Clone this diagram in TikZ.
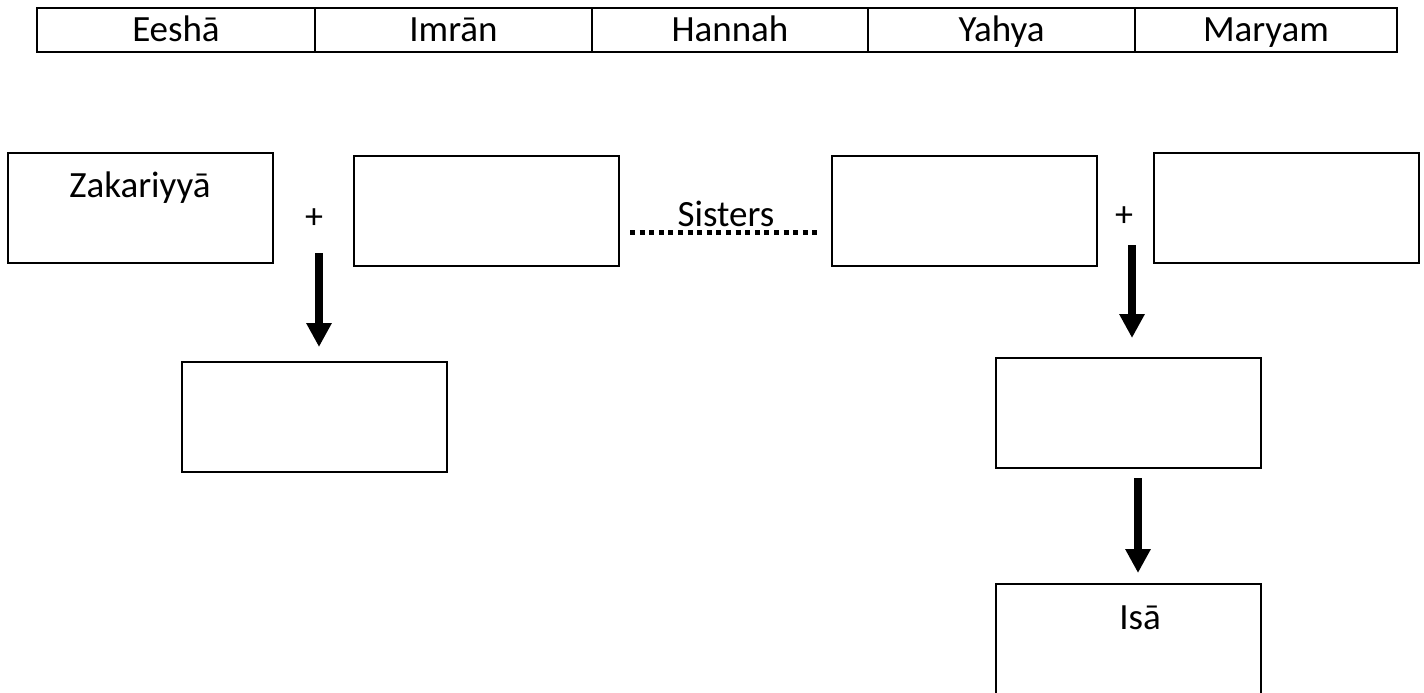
\documentclass[tikz,border=0pt]{standalone}
\usepackage{fontspec}
\setmainfont{Carlito}
\usetikzlibrary{arrows.meta}
\tikzset{
  cell/.style={draw, line width=2pt, minimum height=44pt, inner sep=0pt},
  box/.style={draw, line width=2pt, minimum width=265pt, minimum height=110pt, inner sep=0pt},
  lbl/.style={font=\fontsize{37}{42}\selectfont, inner sep=0pt, anchor=base},
  plus/.style={font=\fontsize{36}{40}\selectfont, inner sep=0pt},
  bigarrow/.style={line width=8pt, -{Triangle[width=24pt,length=24pt]}},
  sisterline/.style={line width=5pt, dash pattern=on 5pt off 4.6pt}
}
\begin{document}
\begin{tikzpicture}[x=1pt,y=-1pt]
\useasboundingbox (0,0) rectangle (1424,693);
% table
\node[cell, minimum width=278pt] (c1) at (176,30) {};
\node[cell, minimum width=277pt] (c2) at (453.5,30) {};
\node[cell, minimum width=276pt] (c3) at (730,30) {};
\node[cell, minimum width=267pt] (c4) at (1001.5,30) {};
\node[cell, minimum width=262pt] (c5) at (1266,30) {};
\node[lbl] (t1) at (176,42) {Eeshā};
\node[lbl] (t2) at (453.5,42) {Imrān};
\node[lbl] (t3) at (730,42) {Hannah};
\node[lbl] (t4) at (1001.5,42) {Yahya};
\node[lbl] (t5) at (1266,42) {Maryam};
% boxes
\node[box] (zak) at (140.5,207.5) {};
\node[lbl] (zaktext) at (140,197) {Zakariyyā};
\node[box] (b2) at (486.5,210.5) {};
\node[box] (b3) at (964,210.5) {};
\node[box] (b4) at (1286,207.5) {};
\node[box] (b5) at (314,417) {};
\node[box] (b6) at (1128.5,413) {};
\node[box] (b7) at (1128,638.5) {};
\node[lbl] (isa) at (1140,629) {Isā};
% plus signs
\node[plus] (p1) at (314,219) {+};
\node[plus] (p2) at (1124,217) {+};
% sisters
\coordinate (s1) at (630,232.5);
\coordinate (s2) at (820,232.5);
\draw[sisterline] (s1) -- (s2);
\node[lbl] (sis) at (726,226) {Sisters};
% arrows
\coordinate (a1s) at (319,253);
\coordinate (a1e) at (319,347);
\draw[bigarrow] (a1s) -- (a1e);
\coordinate (a2s) at (1132,245);
\coordinate (a2e) at (1132,338);
\draw[bigarrow] (a2s) -- (a2e);
\coordinate (a3s) at (1138,478);
\coordinate (a3e) at (1138,573);
\draw[bigarrow] (a3s) -- (a3e);
\end{tikzpicture}
\end{document}
